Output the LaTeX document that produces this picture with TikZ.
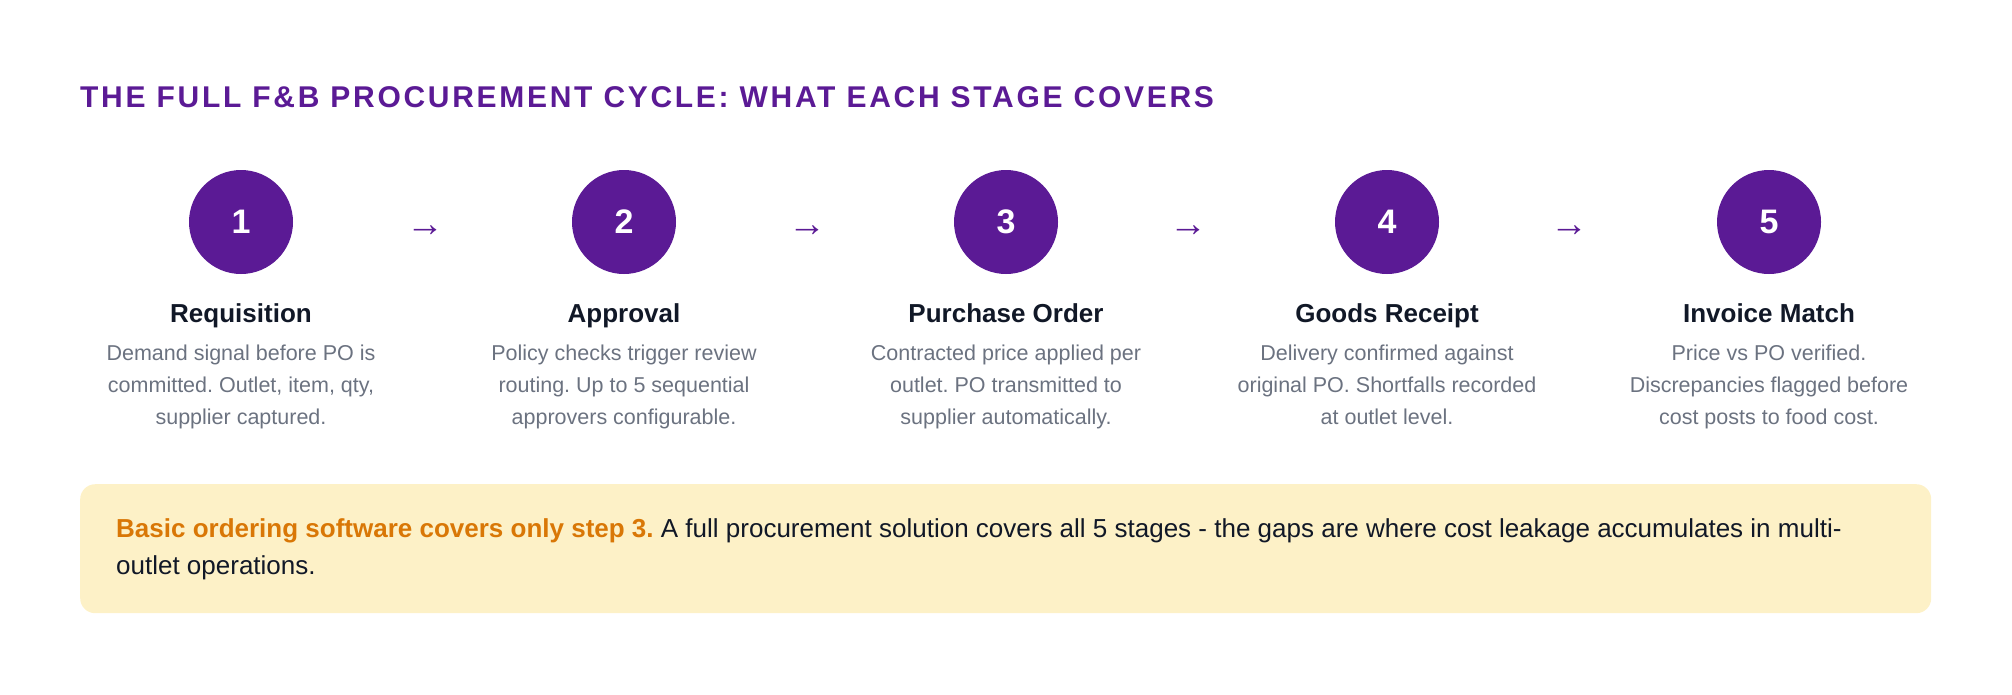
\documentclass[tikz,border=0pt]{standalone}
\usepackage{fontspec}
\setmainfont{Liberation Sans}
\newfontfamily\titlefont[LetterSpace=9]{Liberation Sans}
\definecolor{purp}{HTML}{5B1A95}
\definecolor{grey}{HTML}{6B7280}
\definecolor{dark}{HTML}{111827}
\definecolor{note}{HTML}{FDF1C7}
\definecolor{orng}{HTML}{D97706}
\frenchspacing
\begin{document}
\begin{tikzpicture}[x=1pt,y=-1pt,
  circ/.style={circle,fill=purp,minimum size=104pt,inner sep=0pt,text=white,font=\fontsize{34}{40}\selectfont\bfseries},
  head/.style={font=\fontsize{26}{30}\selectfont\bfseries,text=dark},
  desc/.style={font=\fontsize{21.5}{32}\selectfont,text=grey,align=center},
  arr/.style={text=purp,font=\fontsize{38}{38}\selectfont}]
\useasboundingbox (0,0) rectangle (2012,694);
\node[anchor=west,text=purp,font=\fontsize{30}{36}\selectfont\bfseries\titlefont,inner sep=0pt] (title) at (80,97) {THE FULL F\&B PROCUREMENT CYCLE: WHAT EACH STAGE COVERS};
\foreach \i/\x/\h/\d in {1/241/Requisition/{Demand signal before PO is\\committed. Outlet, item, qty,\\supplier captured.},
  2/624/Approval/{Policy checks trigger review\\routing. Up to 5 sequential\\approvers configurable.},
  3/1006/Purchase Order/{Contracted price applied per\\outlet. PO transmitted to\\supplier automatically.},
  4/1387/Goods Receipt/{Delivery confirmed against\\original PO. Shortfalls recorded\\at outlet level.},
  5/1769/Invoice Match/{Price vs PO verified.\\Discrepancies flagged before\\cost posts to food cost.}}{
  \node[circ] (c\i) at (\x,222) {\i};
  \node[head,inner sep=0pt,anchor=base] (h\i) at (\x,322) {\h};
  \node[desc,anchor=north,inner sep=0pt] (d\i) at (\x,345) {\d};
}
\foreach \i/\x in {1/425,2/807,3/1188,4/1569}{
  \node[arr] (a\i) at (\x,231) {→};
}
\node[fill=note,rounded corners=15pt,minimum width=1851pt,minimum height=129pt,anchor=north west] (box) at (80,484) {};
\node[anchor=north west,inner sep=0pt,align=left,font=\fontsize{26}{37.5}\selectfont,text=dark] (note) at (116,518)
 {{\color{orng}\bfseries Basic ordering software covers only step 3.} A full procurement solution covers all 5 stages - the gaps are where cost leakage accumulates in multi-\\outlet operations.};
\end{tikzpicture}
\end{document}
